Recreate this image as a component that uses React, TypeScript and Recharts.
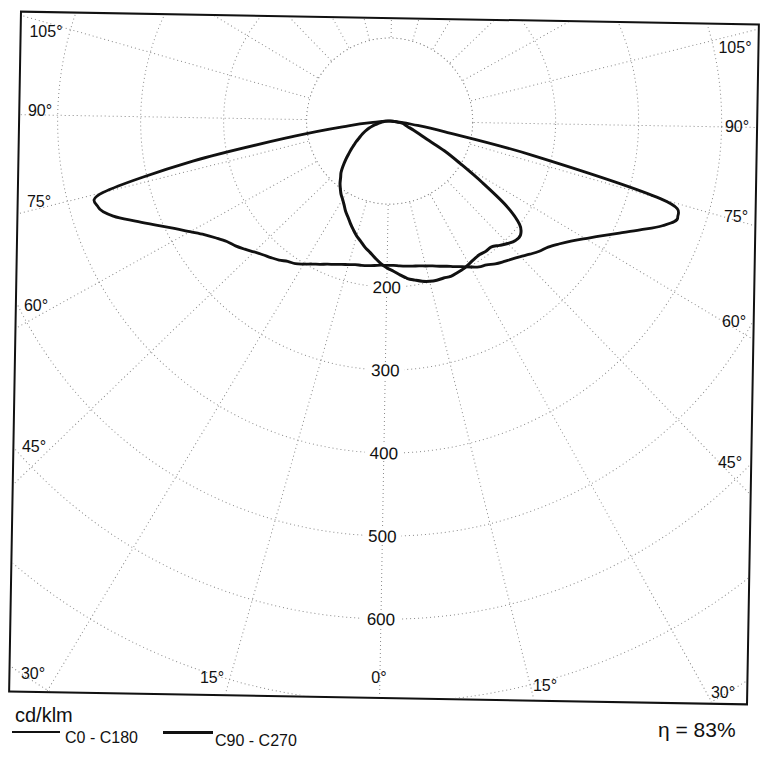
import { RadarChart, Radar, PolarGrid, PolarAngleAxis, PolarRadiusAxis } from "recharts";

// ── Data (cd/klm) ────────────────────────────────────────────────────────────
// gamma = angle from the downward vertical, 2.5° steps, 0..180
const GAMMA = [
  0, 2.5, 5, 7.5, 10, 12.5, 15, 17.5, 20, 22.5, 25, 27.5,
  30, 32.5, 35, 37.5, 40, 42.5, 45, 47.5, 50, 52.5, 55, 57.5,
  60, 62.5, 65, 67.5, 70, 72.5, 75, 77.5, 80, 82.5, 85, 87.5,
  90, 92.5, 95, 97.5, 100, 102.5, 105, 107.5, 110, 112.5, 115, 117.5,
  120, 122.5, 125, 127.5, 130, 132.5, 135, 137.5, 140, 142.5, 145, 147.5,
  150, 152.5, 155, 157.5, 160, 162.5, 165, 167.5, 170, 172.5, 175, 177.5,
  180,
];

const C0 = [
  174, 174, 175, 176, 177, 178, 180, 182, 185, 188, 192, 196,
  201, 206, 209, 214, 218, 222, 227, 233, 239, 244, 252, 262,
  275, 290, 308, 329, 352, 366, 340, 178, 68, 28, 9, 2,
  0, 0, 0, 0, 0, 0, 0, 0, 0, 0, 0, 0,
  0, 0, 0, 0, 0, 0, 0, 0, 0, 0, 0, 0,
  0, 0, 0, 0, 0, 0, 0, 0, 0, 0, 0, 0,
  0,
];

const C180 = [
  174, 174, 175, 176, 177, 178, 180, 182, 185, 188, 192, 196,
  201, 206, 209, 214, 218, 222, 227, 233, 239, 244, 252, 262,
  275, 290, 308, 329, 352, 366, 356, 242, 116, 50, 14, 4,
  0, 0, 0, 0, 0, 0, 0, 0, 0, 0, 0, 0,
  0, 0, 0, 0, 0, 0, 0, 0, 0, 0, 0, 0,
  0, 0, 0, 0, 0, 0, 0, 0, 0, 0, 0, 0,
  0,
];

const C90 = [
  177, 181, 186, 191, 194, 197, 199, 200, 200, 201, 200, 199,
  197, 195, 194, 195, 195, 200, 205, 209, 209, 200, 174, 133,
  99, 75, 50, 39, 31, 25, 21, 19, 17, 13, 8, 3,
  0, 0, 0, 0, 0, 0, 0, 0, 0, 0, 0, 0,
  0, 0, 0, 0, 0, 0, 0, 0, 0, 0, 0, 0,
  0, 0, 0, 0, 0, 0, 0, 0, 0, 0, 0, 0,
  0,
];

const C270 = [
  177, 172, 166, 160, 155, 149, 144, 138, 132, 126, 121, 115,
  110, 106, 101, 96, 90, 85, 78, 71, 64, 58, 52, 47,
  42, 38, 34, 30, 26, 22, 18, 14, 11, 8, 5, 2,
  0, 0, 0, 0, 0, 0, 0, 0, 0, 0, 0, 0,
  0, 0, 0, 0, 0, 0, 0, 0, 0, 0, 0, 0,
  0, 0, 0, 0, 0, 0, 0, 0, 0, 0, 0, 0,
  0,
];

const RADIUS_LABELS = [200, 300, 400, 500, 600];
const SIDE_ANGLES = [105, 90, 75, 60, 45, 30];
const BOTTOM_ANGLES = [15, 0, 15];

// ── Layout ───────────────────────────────────────────────────────────────────

const FONT = '"Liberation Sans", Arial, sans-serif';
const R_MAX = 1000;
const OUTER_R = 830; // px for R_MAX
const CHART_W = 736;
const CHART_H = 678;
const CX = 369.5;
const CY = 102;

// label centres (page px)
const LEFT_POS = [[46, 32], [40, 111], [39, 202], [36, 306], [34, 447], [33, 674]];
const RIGHT_POS = [[735, 48], [737, 127], [736, 217], [734, 322], [730, 463], [723, 693]];
const BOTTOM_POS = [[212, 678], [379, 678], [545, 686]];

// radial grid lines every 15° (recharts angles, 0° of the diagram points down)
const RAY_ANGLES = Array.from({ length: 24 }, (_, k) => -90 + k * 15);

// right half: C0 / C90, left half: C180 / C270
const rows: { theta: number; cA: number; cB: number }[] = [];
GAMMA.forEach((g, i) => rows.push({ theta: g, cA: C0[i], cB: C90[i] }));
for (let i = GAMMA.length - 2; i > 0; i--) {
  rows.push({ theta: 360 - GAMMA[i], cA: C180[i], cB: C270[i] });
}

// closed catmull-rom through the points recharts computed
function smoothClosed(pts: { x: number; y: number }[]) {
  const n = pts.length;
  if (n < 3) return "";
  let d = `M${pts[0].x},${pts[0].y}`;
  for (let i = 0; i < n; i++) {
    const p0 = pts[(i - 1 + n) % n];
    const p1 = pts[i];
    const p2 = pts[(i + 1) % n];
    const p3 = pts[(i + 2) % n];
    const c1x = p1.x + (p2.x - p0.x) / 6;
    const c1y = p1.y + (p2.y - p0.y) / 6;
    const c2x = p2.x - (p3.x - p1.x) / 6;
    const c2y = p2.y - (p3.y - p1.y) / 6;
    d += `C${c1x},${c1y} ${c2x},${c2y} ${p2.x},${p2.y}`;
  }
  return d + "Z";
}

function SmoothShape(props: any) {
  return (
    <path
      d={smoothClosed(props.points ?? [])}
      fill="none"
      stroke={props.stroke}
      strokeWidth={props.strokeWidth}
      strokeLinejoin="round"
    />
  );
}

function RadiusTick(props: any) {
  const { x, y, payload } = props;
  if (!RADIUS_LABELS.includes(payload?.value)) return <g />;
  return (
    <g>
      <rect x={x - 19} y={y - 8} width={38} height={16} fill="#fff" />
      <text
        x={x}
        y={y}
        dy="0.36em"
        textAnchor="middle"
        fontSize={17}
        fontFamily={FONT}
        fill="#111"
      >
        {payload.value}
      </text>
    </g>
  );
}

function AngleLabel({ text, pos }: { text: string; pos: number[] }) {
  return (
    <div
      style={{
        position: "absolute",
        left: pos[0],
        top: pos[1],
        transform: "translate(-50%, -50%)",
        fontFamily: FONT,
        fontSize: 16,
        lineHeight: 1,
        color: "#111",
        whiteSpace: "nowrap",
      }}
    >
      {text}
    </div>
  );
}

export default function App() {
  return (
    <div
      style={{
        position: "absolute",
        left: 0,
        top: 0,
        width: 764,
        height: 765,
        background: "#fff",
        overflow: "hidden",
      }}
    >
      {/* the scan is tilted by about one degree */}
      <div
        style={{
          position: "absolute",
          left: 0,
          top: 0,
          width: 764,
          height: 765,
          transform: "rotate(1deg)",
          transformOrigin: "384px 358px",
        }}
      >
        <div
          style={{
            position: "absolute",
            left: 14,
            top: 17,
            width: 740,
            height: 682,
            border: "2px solid #111",
            boxSizing: "border-box",
            overflow: "hidden",
          }}
        >
          <RadarChart
            width={CHART_W}
            height={CHART_H}
            data={rows}
            cx={CX}
            cy={CY}
            outerRadius={OUTER_R}
            startAngle={-90}
            endAngle={270}
            margin={{ top: 0, right: 0, bottom: 0, left: 0 }}
          >
            <PolarGrid
              gridType="circle"
              polarAngles={RAY_ANGLES}
              stroke="#8a8a8a"
              strokeDasharray="1 3"
            />
            <PolarAngleAxis
              dataKey="theta"
              type="number"
              domain={[0, 360]}
              tick={false}
              axisLine={false}
              tickLine={false}
            />
            <PolarRadiusAxis
              angle={-90}
              domain={[0, R_MAX]}
              tickCount={11}
              axisLine={false}
              tickLine={false}
              tick={(p: any) => <RadiusTick {...p} />}
            />
            {/* empty disc inside the first ring */}
            <circle
              cx={CX}
              cy={CY}
              r={(OUTER_R * 100) / R_MAX}
              fill="#fff"
              stroke="#8a8a8a"
              strokeDasharray="1 3"
            />
            <Radar
              dataKey="cA"
              stroke="#111"
              strokeWidth={2.8}
              fill="none"
              dot={false}
              shape={(p: any) => <SmoothShape {...p} />}
              isAnimationActive={false}
            />
            <Radar
              dataKey="cB"
              stroke="#111"
              strokeWidth={3}
              fill="none"
              dot={false}
              shape={(p: any) => <SmoothShape {...p} />}
              isAnimationActive={false}
            />
          </RadarChart>
        </div>
      </div>

      {SIDE_ANGLES.map((a, i) => (
        <AngleLabel key={"l" + i} text={`${a}°`} pos={LEFT_POS[i]} />
      ))}
      {SIDE_ANGLES.map((a, i) => (
        <AngleLabel key={"r" + i} text={`${a}°`} pos={RIGHT_POS[i]} />
      ))}
      {BOTTOM_ANGLES.map((a, i) => (
        <AngleLabel key={"b" + i} text={`${a}°`} pos={BOTTOM_POS[i]} />
      ))}

      {/* unit + legend */}
      <div
        style={{
          position: "absolute",
          left: 15,
          top: 705,
          fontFamily: FONT,
          fontSize: 20,
          lineHeight: 1,
          color: "#111",
        }}
      >
        cd/klm
      </div>
      <div style={{ position: "absolute", left: 12, top: 731, width: 48, height: 1.5, background: "#111" }} />
      <div
        style={{
          position: "absolute",
          left: 65,
          top: 729.5,
          fontFamily: FONT,
          fontSize: 16,
          lineHeight: 1,
          color: "#111",
          whiteSpace: "nowrap",
        }}
      >
        C0 - C180
      </div>
      <div style={{ position: "absolute", left: 163, top: 731, width: 50, height: 2.5, background: "#111" }} />
      <div
        style={{
          position: "absolute",
          left: 215,
          top: 732.5,
          fontFamily: FONT,
          fontSize: 16,
          lineHeight: 1,
          color: "#111",
          whiteSpace: "nowrap",
        }}
      >
        C90 - C270
      </div>
      <div
        style={{
          position: "absolute",
          left: 658,
          top: 719,
          fontFamily: FONT,
          fontSize: 21,
          lineHeight: 1,
          color: "#111",
          whiteSpace: "nowrap",
        }}
      >
        η = 83%
      </div>
    </div>
  );
}
